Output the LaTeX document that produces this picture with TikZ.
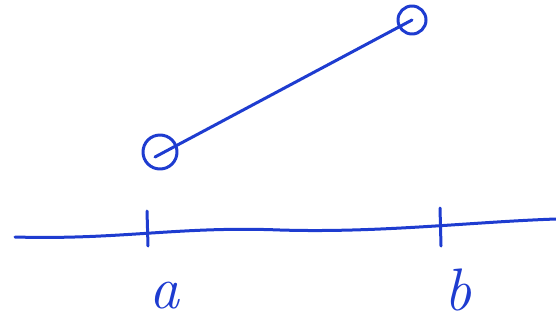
\documentclass[tikz,border=0pt]{standalone}
\definecolor{ink}{HTML}{1E3CD0}
\begin{document}
\begin{tikzpicture}[x=1pt,y=-1pt,
  pen/.style={draw=ink,line width=3pt,line cap=round,line join=round},
  ring/.style={circle,pen,inner sep=0pt},
  lbl/.style={text=ink,inner sep=0pt,font=\fontsize{60}{60}\selectfont\itshape}]
\useasboundingbox (0,0) rectangle (556,322);
\node[ring,minimum size=34pt] (c1) at (160,152) {};
\node[ring,minimum size=28pt] (c2) at (412,20) {};
\draw[pen] (c1.center) ++(-5,5) coordinate (s) -- (c2.center);
\coordinate (l0) at (15,237);
\coordinate (l1) at (556,219);
\draw[pen] (l0) .. controls (120,240) and (180,226) .. (280,230) .. controls (380,233) and (470,222) .. (l1);
\coordinate (ta1) at (147,211); \coordinate (ta2) at (148,246);
\coordinate (tb1) at (440,208); \coordinate (tb2) at (441,246);
\draw[pen] (ta1) -- (ta2);
\draw[pen] (tb1) -- (tb2);
\node[lbl] (a) at (164,296) {a};
\node[lbl] (b) at (458,290) {b};
\end{tikzpicture}
\end{document}
